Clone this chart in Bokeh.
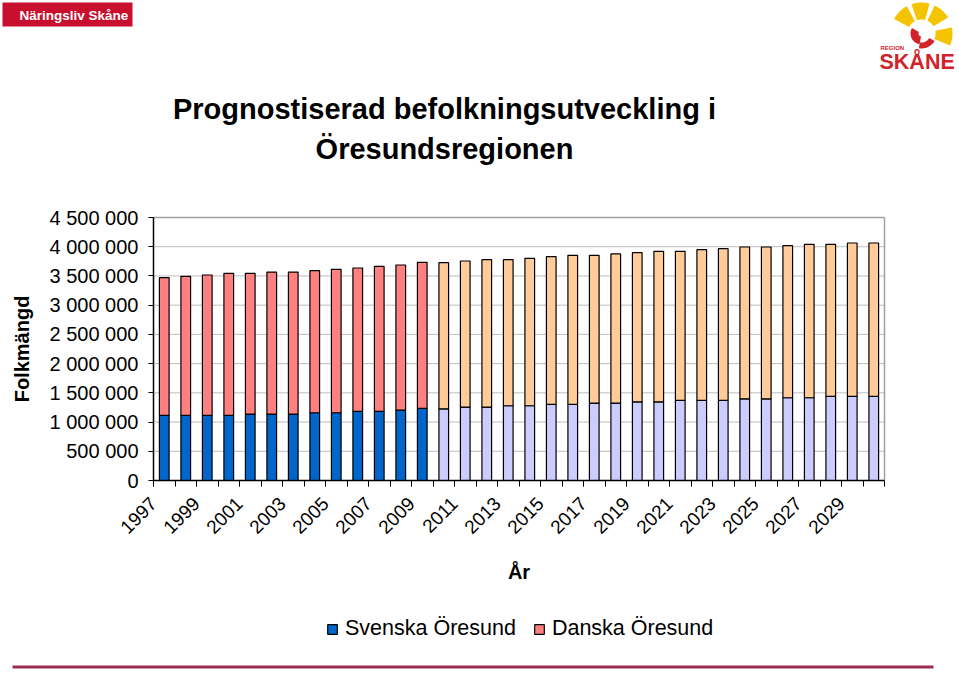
import numpy as np
from bokeh.plotting import figure
from bokeh.core.properties import value
from bokeh.models import (Range1d, FixedTicker, CustomJSTickFormatter, Legend, LegendItem,
                          ColumnDataSource)
from bokeh.embed import file_html
from bokeh.resources import INLINE

# ---------------- data ----------------
hist_years = list(range(1997, 2010))
hist_svenska = [1113000, 1113000, 1113000, 1113000, 1136000, 1136000, 1136000,
                1159000, 1159000, 1182000, 1182000, 1204000, 1233000]
hist_danska = [2357000, 2380000, 2403000, 2432000, 2409000, 2431000, 2431000,
               2431000, 2454000, 2454000, 2482000, 2483000, 2500000]

prog_years = list(range(2010, 2031))
prog_svenska = [1227000, 1256000, 1256000, 1279000, 1279000, 1301000, 1301000,
                1324000, 1324000, 1347000, 1347000, 1370000, 1370000, 1370000,
                1398000, 1398000, 1416000, 1416000, 1438000, 1438000, 1438000]
prog_danska = [2500000, 2500000, 2523000, 2500000, 2522000, 2529000, 2552000,
               2529000, 2552000, 2551000, 2574000, 2551000, 2580000, 2597000,
               2597000, 2597000, 2602000, 2625000, 2603000, 2626000, 2626000]

series_names = ["Svenska Öresund", "Danska Öresund"]
y_ticks = [0, 500000, 1000000, 1500000, 2000000, 2500000, 3000000, 3500000, 4000000, 4500000]
x_label_years = list(range(1997, 2030, 2))

title_lines = ["Prognostiserad befolkningsutveckling i", "Öresundsregionen"]

FONT = "Liberation Sans"
HIST_COLORS = ["#0066CC", "#FF8080"]
PROG_COLORS = ["#CCCCFF", "#FFCC99"]

# ---------------- geometry (canvas pixels) ----------------
W, H = 955, 670
PL, PR, PT, PB = 153, 884, 217, 480          # plot-area box on the canvas

x0_d = hist_years[0] - 0.5
x1_d = prog_years[-1] + 0.5
y0_d, y1_d = y_ticks[0], y_ticks[-1]
sx = (x1_d - x0_d) / (PR - PL)
sy = (y1_d - y0_d) / (PB - PT)
x_range = Range1d(x0_d - PL * sx, x1_d + (W - PR) * sx)
y_range = Range1d(y0_d - (H - PB) * sy, y1_d + PT * sy)

p = figure(width=W, height=H, x_range=x_range, y_range=y_range,
           output_backend="svg", toolbar_location=None, min_border=0)
p.background_fill_color = "white"
p.border_fill_color = "white"
p.outline_line_color = None
p.xgrid.visible = False
p.ygrid.visible = False
p.extra_x_ranges = {"px": Range1d(0, W)}
p.extra_y_ranges = {"px": Range1d(H, 0)}

# grid lines and plot-area border
p.segment(x0=[x0_d] * (len(y_ticks) - 2), x1=[x1_d] * (len(y_ticks) - 2),
          y0=y_ticks[1:-1], y1=y_ticks[1:-1], line_color="#BDBDBD", line_width=1)
p.segment(x0=[x0_d, x1_d], x1=[x1_d, x1_d], y0=[y1_d, y0_d], y1=[y1_d, y1_d],
          line_color="#A0A0A0", line_width=1.5)

# bars
hist_src = ColumnDataSource(dict(year=hist_years, svenska=hist_svenska, danska=hist_danska))
prog_src = ColumnDataSource(dict(year=prog_years, svenska=prog_svenska, danska=prog_danska))
BAR_W = 0.45
hist_r = p.vbar_stack(["svenska", "danska"], x="year", width=BAR_W, source=hist_src,
                      fill_color=HIST_COLORS, line_color="black", line_width=1.2)
prog_r = p.vbar_stack(["svenska", "danska"], x="year", width=BAR_W, source=prog_src,
                      fill_color=PROG_COLORS, line_color="black", line_width=1.2)

# y axis
ya = p.yaxis[0]
ya.fixed_location = x0_d
ya.bounds = (y0_d, y1_d)
ya.ticker = FixedTicker(ticks=y_ticks)
ya.formatter = CustomJSTickFormatter(
    code="return Math.round(tick).toString().replace(/\\B(?=(\\d{3})+(?!\\d))/g, ' ');")
ya.axis_label = "Folkmängd"
ya.axis_label_text_font = FONT
ya.axis_label_text_font_style = "bold"
ya.axis_label_text_font_size = "20px"
ya.axis_label_text_color = "black"
ya.axis_label_standoff = 14
ya.major_label_text_font = FONT
ya.major_label_text_font_size = "20px"
ya.major_label_text_color = "black"
ya.major_label_standoff = 10
ya.major_tick_out = 5
ya.major_tick_in = 0
ya.minor_tick_out = 0
ya.minor_tick_in = 0
ya.axis_line_color = "black"
ya.axis_line_width = 1.5
ya.major_tick_line_color = "black"

# x axis: category boundaries carry the ticks; every second one is labelled
# with the year that starts there (as in the original chart)
xa = p.xaxis[0]
xa.fixed_location = y0_d
xa.bounds = (x0_d, x1_d)
boundaries = [y - 0.5 for y in hist_years + prog_years] + [x1_d]
xa.ticker = FixedTicker(ticks=[y - 0.5 for y in x_label_years], minor_ticks=boundaries)
xa.formatter = CustomJSTickFormatter(code="return String(Math.round(tick + 0.5));")
xa.major_label_orientation = np.pi / 4
xa.major_label_text_font = FONT
xa.major_label_text_font_size = "19px"
xa.major_label_text_color = "black"
xa.major_label_standoff = 14
xa.major_tick_out = 6
xa.major_tick_in = 0
xa.major_tick_line_color = "black"
xa.minor_tick_out = 6
xa.minor_tick_in = 0
xa.minor_tick_line_color = "black"
xa.axis_line_color = "black"
xa.axis_line_width = 1.5
xa.axis_label = "År"
xa.axis_label_text_font = FONT
xa.axis_label_text_font_style = "bold"
xa.axis_label_text_font_size = "20px"
xa.axis_label_text_color = "black"
xa.axis_label_standoff = 18

# legend
legend = Legend(items=[LegendItem(label=series_names[0], renderers=[hist_r[0]]),
                       LegendItem(label=series_names[1], renderers=[hist_r[1]])],
                orientation="horizontal", location=(326, 29))
legend.label_text_font = FONT
legend.label_text_font_size = "21.5px"
legend.label_text_color = "black"
legend.glyph_width = 12
legend.glyph_height = 12
legend.label_standoff = 7
legend.spacing = 17
legend.padding = 0
legend.margin = 0
legend.border_line_color = None
legend.background_fill_alpha = 0
p.add_layout(legend)

# ---------------- header: title and logos (pixel ranges) ----------------
px = dict(x_range_name="px", y_range_name="px")
p.text(x=[444, 444], y=[108, 148], text=title_lines, text_align="center",
       text_baseline="middle", text_font=value(FONT), text_font_style="bold",
       text_font_size=value("29px"), text_color="black", **px)

p.quad(left=[2], right=[132], top=[2], bottom=[26], fill_color="#C8102E", line_color=None, **px)
p.text(x=[19], y=[15], text=["Näringsliv Skåne"], text_align="left",
       text_baseline="middle", text_font=value(FONT), text_font_style="bold",
       text_font_size=value("13.5px"), text_color="white", **px)

cx, cy = 921, 33
def sector(a0, a1, r0, r1, n=12):
    t = np.radians(np.linspace(a0, a1, n))
    xs = list(cx + r1 * np.cos(t)) + list(cx + r0 * np.cos(t[::-1]))
    ys = list(cy - r1 * np.sin(t)) + list(cy - r0 * np.sin(t[::-1]))
    return xs, ys

pet = [sector(a - 17, a + 17, 14, 31) for a in [135, 92, 48, -6]]
p.patches(xs=[q[0] for q in pet], ys=[q[1] for q in pet], fill_color="#F5C400",
          line_color=None, **px)
red1 = sector(150, 260, 3, 11)
red2 = sector(260, 330, 9, 15)
p.patches(xs=[red1[0], red2[0]], ys=[red1[1], red2[1]], fill_color="#D2232A",
          line_color=None, **px)
p.text(x=[880], y=[47], text=["REGION"], text_align="left", text_baseline="middle",
       text_font=value(FONT), text_font_style="bold", text_font_size=value("6px"),
       text_color="#D2232A", **px)
p.text(x=[879], y=[61], text=["SKÅNE"], text_align="left", text_baseline="middle",
       text_font=value(FONT), text_font_style="bold", text_font_size=value("21.5px"),
       text_color="#D2232A", **px)

# bottom rule
p.quad(left=[12], right=[933], top=[665], bottom=[668], fill_color="#9B2D4F",
       line_color=None, **px)

open("out.html", "w").write(file_html(p, INLINE))
